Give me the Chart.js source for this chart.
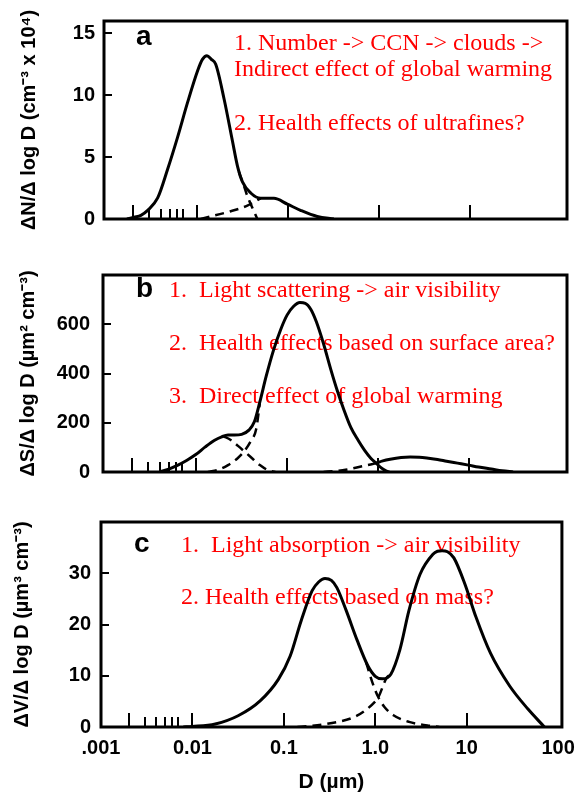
<!DOCTYPE html>
<html>
<head>
<meta charset="utf-8">
<script src="https://cdn.jsdelivr.net/npm/chart.js@4.4.1/dist/chart.umd.min.js"></script>
<style>
  body { margin: 0; background: #fff; }
  canvas { position: absolute; left: 0; }
</style>
</head>
<body>
<canvas id="panelA" width="584" height="250" style="top:0;width:584px;height:250px"></canvas>
<canvas id="panelB" width="584" height="250" style="top:250px;width:584px;height:250px"></canvas>
<canvas id="panelC" width="584" height="294" style="top:500px;width:584px;height:294px"></canvas>
<script>
// diameters in µm

// x axis
const xDecadeTicks = [0.001, 0.01, 0.1, 1, 10, 100];
const xDecadeLabels = ['.001', '0.01', '0.1', '1.0', '10', '100'];
const xMarkTicks = [0.002, 0.003, 0.004, 0.005, 0.006, 0.007, 0.01, 0.1, 1, 10];
const xShortMarks = [0.003, 0.004, 0.005, 0.006, 0.007];

// panel a: number distribution (x 10^4 cm^-3)
const aTicks = [0, 5, 10, 15];
const aTotalD = [0.0017, 0.00204, 0.00242, 0.00287, 0.0037, 0.00475, 0.00612, 0.00788, 0.0102, 0.0115, 0.0129, 0.0144, 0.0161, 0.0199, 0.0246, 0.0279, 0.0317, 0.0391, 0.0503, 0.0704, 0.0988, 0.138, 0.211, 0.321];
const aTotalN = [0, 0.15, 0.3, 0.7, 1.7, 4.0, 6.6, 9.4, 12.0, 12.9, 13.2, 12.9, 12.5, 9.7, 6.3, 4.3, 3.0, 2.1, 1.67, 1.67, 1.2, 0.7, 0.2, 0];
const aNucTailD = [0.029, 0.0325, 0.0359, 0.0405, 0.0462];
const aNucTailN = [3.8, 2.8, 1.85, 0.95, 0];
const aAitkenD = [0.011, 0.0159, 0.0229, 0.0359, 0.0503];
const aAitkenN = [0, 0.3, 0.6, 1.08, 1.67];

// panel b: surface distribution (µm^2 cm^-3)
const bTicks = [0, 200, 400, 600];
const bTotalD = [0.00398, 0.00501, 0.00631, 0.00794, 0.01, 0.0126, 0.0158, 0.0191, 0.0224, 0.0263, 0.0316, 0.038, 0.0437, 0.0501, 0.0589, 0.0708, 0.0851, 0.1, 0.117, 0.138, 0.158, 0.182, 0.209, 0.251, 0.302, 0.355, 0.417, 0.501, 0.603, 0.708, 0.832, 0.933, 1.07, 1.2, 1.32];
const bTotalS = [0, 12, 28, 48, 72, 102, 128, 143, 150, 150, 153, 170, 205, 285, 390, 495, 580, 638, 672, 688, 685, 660, 610, 520, 415, 330, 255, 180, 128, 88, 55, 38, 18, 6, 0];
const bCoarseD = [0.933, 1.12, 1.35, 1.78, 2.24, 2.82, 3.55, 4.47, 5.62, 7.41, 9.77, 12.6, 17.4, 22.9, 30.2];
const bCoarseS = [35, 45, 52, 59, 61, 60, 56, 51, 44, 36, 28, 20, 12, 5, 0];
const bCoarseTailD = [0.251, 0.355, 0.437, 0.646, 0.933];
const bCoarseTailS = [0, 5, 9, 22, 35];
const bNucD = [0.02, 0.024, 0.0288, 0.0347, 0.0417, 0.0501, 0.0603, 0.0741];
const bNucS = [145, 130, 106, 80, 54, 28, 9, 0];
const bAccD = [0.0135, 0.0178, 0.0224, 0.0282, 0.0339, 0.0398, 0.0457, 0.0501];
const bAccS = [0, 10, 28, 54, 85, 125, 175, 280];

// panel c: volume distribution (µm^3 cm^-3)
const cTicks = [0, 10, 20, 30];
const cTotalD = [0.00794, 0.01, 0.0178, 0.0316, 0.055, 0.0871, 0.117, 0.155, 0.204, 0.24, 0.282, 0.331, 0.38, 0.479, 0.631, 0.832, 1.0, 1.2, 1.48, 1.86, 2.34, 3.09, 4.27, 4.79, 5.37, 6.17, 7.24, 9.55, 12.6, 18.2, 29.5, 46.8, 70.8];
const cTotalV = [0, 0.1, 0.6, 2.2, 5.1, 9.3, 13.8, 20.8, 26.6, 28.3, 29.0, 28.6, 27.2, 22.8, 17.0, 11.9, 9.9, 9.4, 10.3, 15.1, 22.8, 29.8, 33.7, 34.3, 34.4, 34.2, 33.0, 27.9, 21.5, 14.4, 8.0, 3.5, 0];
const cAccTailD = [0.794, 0.933, 1.08, 1.26, 1.58, 2.34, 3.72, 5.01];
const cAccTailV = [12.6, 8.6, 5.8, 3.9, 2.3, 1.0, 0.3, 0];
const cCoarseTailD = [0.141, 0.295, 0.631, 1.0, 1.08, 1.33, 1.45];
const cCoarseTailV = [0, 0.6, 2.2, 5.0, 5.8, 9.6, 10.2];

function pts(d, v) {
    return d.map((x, i) => ({ x: x, y: v[i] }));
}

function solid(d, v) {
    return {
        data: pts(d, v),
        borderColor: '#000',
        borderWidth: 3,
        pointRadius: 0,
        fill: false,
        cubicInterpolationMode: 'monotone'
    };
}

function dashed(d, v) {
    const ds = solid(d, v);
    ds.borderWidth = 2.5;
    ds.borderDash = [9, 6];
    return ds;
}

const sansBold = '"Liberation Sans", Arial, Helvetica, sans-serif';

// frame, inner tick marks, panel letter and red notes
const panelDecor = {
    id: 'panelDecor',
    beforeDatasetsDraw(chart, args, opts) {
        const ctx = chart.ctx;
        ctx.save();
        ctx.fillStyle = '#000';
        ctx.font = 'bold 28px ' + sansBold;
        ctx.textAlign = 'left';
        ctx.textBaseline = 'alphabetic';
        ctx.fillText(opts.letter[0], opts.letter[1], opts.letter[2]);
        ctx.fillStyle = '#ff0000';
        ctx.font = '24px "Liberation Serif", "Times New Roman", serif';
        opts.notes.forEach(n => ctx.fillText(n[0], n[1], n[2]));
        ctx.restore();
    },
    afterDatasetsDraw(chart, args, opts) {
        const { ctx, chartArea: ca, scales } = chart;
        ctx.save();
        ctx.strokeStyle = '#000';
        ctx.lineWidth = 3;
        ctx.strokeRect(ca.left, ca.top, ca.right - ca.left, ca.bottom - ca.top);
        ctx.lineWidth = 2;
        ctx.beginPath();
        xMarkTicks.forEach(v => {
            const x = Math.round(scales.x.getPixelForValue(v));
            const len = xShortMarks.includes(v) ? 10 : 14;
            ctx.moveTo(x, ca.bottom);
            ctx.lineTo(x, ca.bottom - len);
        });
        opts.yTicks.forEach(v => {
            if (v === 0) return;
            const y = Math.round(scales.y.getPixelForValue(v));
            ctx.moveTo(ca.left, y);
            ctx.lineTo(ca.left + 8, y);
        });
        ctx.stroke();
        ctx.restore();
    }
};

function makePanel(id, cfg) {
    const ctx = document.getElementById(id).getContext('2d');
    return new Chart(ctx, {
        type: 'line',
        data: { datasets: cfg.datasets },
        plugins: [panelDecor],
        options: {
            responsive: false,
            animation: false,
            devicePixelRatio: 1,
            layout: { padding: cfg.padding },
            plugins: {
                legend: { display: false },
                tooltip: { enabled: false },
                panelDecor: { letter: cfg.letter, notes: cfg.notes, yTicks: cfg.yTicks }
            },
            scales: {
                x: {
                    type: 'logarithmic',
                    min: cfg.xMin,
                    max: cfg.xMax,
                    border: { display: false },
                    grid: { display: false, drawTicks: false },
                    afterBuildTicks: s => { s.ticks = xDecadeTicks.map(v => ({ value: v })); },
                    afterFit: s => { s.height = cfg.xHeight; },
                    ticks: {
                        display: cfg.xLabels,
                        autoSkip: false,
                        maxRotation: 0,
                        padding: 9,
                        color: '#000',
                        font: { family: sansBold, size: 20, weight: 'bold' },
                        callback: (v, i) => xDecadeLabels[i]
                    },
                    title: {
                        display: cfg.xLabels,
                        text: 'D (µm)',
                        color: '#000',
                        padding: { top: 0, bottom: -1 },
                        font: { family: sansBold, size: 21, weight: 'bold' }
                    }
                },
                y: {
                    min: 0,
                    max: cfg.yMax,
                    border: { display: false },
                    grid: { display: false, drawTicks: false },
                    afterBuildTicks: s => { s.ticks = cfg.yTicks.map(v => ({ value: v })); },
                    afterFit: s => { s.width = cfg.yWidth; },
                    ticks: {
                        padding: cfg.yPad,
                        color: '#000',
                        font: { family: sansBold, size: 20, weight: 'bold' }
                    },
                    title: {
                        display: true,
                        text: cfg.yTitle,
                        color: '#000',
                        padding: { top: cfg.titlePad, bottom: 0 },
                        font: { family: sansBold, size: 20, weight: 'bold' }
                    }
                }
            }
        }
    });
}

makePanel('panelA', {
    datasets: [
        solid(aTotalD, aTotalN),
        dashed(aNucTailD, aNucTailN),
        dashed(aAitkenD, aAitkenN)
    ],
    padding: { top: 13, right: 17, left: 0, bottom: 0 },
    xMin: 0.00095, xMax: 118, xHeight: 31, xLabels: false,
    yMax: 16, yTicks: aTicks, yWidth: 104, yPad: 9, titlePad: 17,
    yTitle: 'ΔN/Δ log D (cm⁻³ x 10⁴)',
    letter: ['a', 136, 45],
    notes: [
        ['1. Number -> CCN -> clouds ->', 234, 50],
        ['Indirect effect of global warming', 234, 76],
        ['2. Health effects of ultrafines?', 234, 130]
    ]
});

makePanel('panelB', {
    datasets: [
        solid(bTotalD, bTotalS),
        solid(bCoarseD, bCoarseS),
        dashed(bCoarseTailD, bCoarseTailS),
        dashed(bNucD, bNucS),
        dashed(bAccD, bAccS)
    ],
    padding: { top: 14, right: 17, left: 0, bottom: 0 },
    xMin: 0.00095, xMax: 118, xHeight: 28, xLabels: false,
    yMax: 800, yTicks: bTicks, yWidth: 103, yPad: 13, titlePad: 16,
    yTitle: 'ΔS/Δ log D (µm² cm⁻³)',
    letter: ['b', 136, 47],
    notes: [
        ['1.  Light scattering -> air visibility', 169, 47],
        ['2.  Health effects based on surface area?', 169, 100],
        ['3.  Direct effect of global warming', 169, 153]
    ]
});

makePanel('panelC', {
    datasets: [
        solid(cTotalD, cTotalV),
        dashed(cAccTailD, cAccTailV),
        dashed(cCoarseTailD, cCoarseTailV)
    ],
    padding: { top: 18, right: 22, left: 0, bottom: 0 },
    xMin: 0.001, xMax: 110, xHeight: 67, xLabels: true,
    yMax: 40, yTicks: cTicks, yWidth: 101, yPad: 10, titlePad: 10,
    yTitle: 'ΔV/Δ log D (µm³ cm⁻³)',
    letter: ['c', 134, 52],
    notes: [
        ['1.  Light absorption -> air visibility', 181, 52],
        ['2. Health effects based on mass?', 181, 104]
    ]
});
</script>
</body>
</html>
